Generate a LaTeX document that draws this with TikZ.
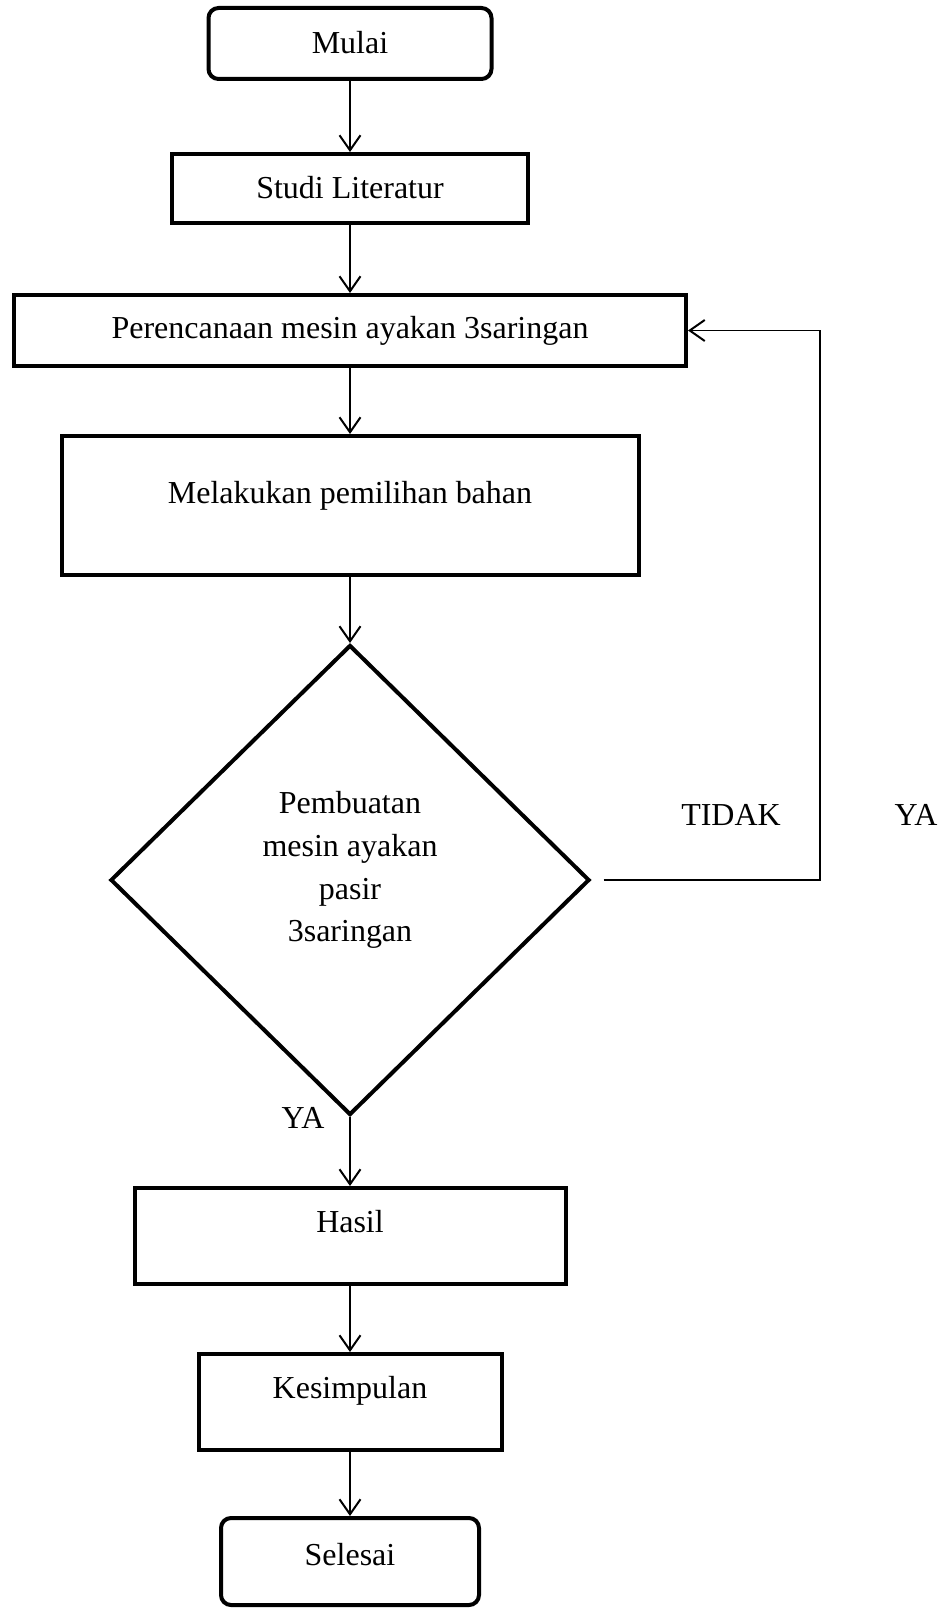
\documentclass[tikz,border=0pt]{standalone}
\usepackage{fontspec}
\setmainfont{Liberation Serif}
\usetikzlibrary{shapes.geometric,arrows.meta}
\begin{document}
\begin{tikzpicture}[line width=0.04cm, font=\fontsize{18.2}{24.4}\selectfont,
  kotak/.style={draw, rectangle, line width=0.08cm, inner sep=0pt, text height=0.4cm, text depth=0cm},
  ujung/.style={kotak, rounded corners=0.2cm},
  keputusan/.style={draw, diamond, aspect=1, line width=0.08cm, inner sep=0pt},
  panah/.style={-{Straight Barb[length=0.3cm,width=0.42cm,line width=0.04cm]}},
  balik/.style={panah, line width=0.025cm}]
  \useasboundingbox (0,0) rectangle (18.92,-32.16);
  % kotak-kotak alur
  \node[ujung, minimum width=5.66cm, minimum height=1.42cm] (mulai) at (7.0,-0.87) {Mulai};
  \node[kotak, minimum width=7.12cm, minimum height=1.38cm] (studi) at (7.0,-3.77) {Studi Literatur};
  \node[kotak, minimum width=13.44cm, minimum height=1.42cm, text depth=0.1cm] (renc) at (7.0,-6.61) {Perencanaan mesin ayakan 3saringan};
  \node[kotak, minimum width=11.54cm, minimum height=2.78cm, text depth=0.5cm] (bahan) at (7.0,-10.11) {Melakukan pemilihan bahan};
  \node[keputusan, minimum width=9.58cm, minimum height=9.4cm] (buat) at (7.0,-17.6) {};
  \node[align=center] (buatteks) at (7.0,-17.4) {Pembuatan\\mesin ayakan\\pasir\\3saringan};
  \node[kotak, minimum width=8.62cm, minimum height=1.92cm, text depth=0.56cm] (hasil) at (7.0,-24.72) {Hasil};
  \node[kotak, minimum width=6.06cm, minimum height=1.92cm, text depth=0.56cm] (simpul) at (7.0,-28.04) {Kesimpulan};
  \node[ujung, minimum width=5.16cm, minimum height=1.74cm, text depth=0.26cm] (selesai) at (7.0,-31.23) {Selesai};
  % keterangan
  \node (tidak) at (14.62,-16.3) {TIDAK};
  \node (yakanan) at (18.32,-16.3) {YA};
  \node (yabawah) at (6.06,-22.36) {YA};
  \coordinate (sudut) at (16.4,-17.6);
  % panah
  \draw[panah] (mulai) -- (studi);
  \draw[panah] (studi) -- (renc);
  \draw[panah] (renc) -- (bahan);
  \draw[panah] (bahan) -- (buat);
  \draw[panah] (buat) -- (hasil);
  \draw[panah] (hasil) -- (simpul);
  \draw[panah] (simpul) -- (selesai);
  \draw[balik, shorten <=0.24cm] (buat.east) -- (sudut) |- (renc.east);
\end{tikzpicture}
\end{document}
